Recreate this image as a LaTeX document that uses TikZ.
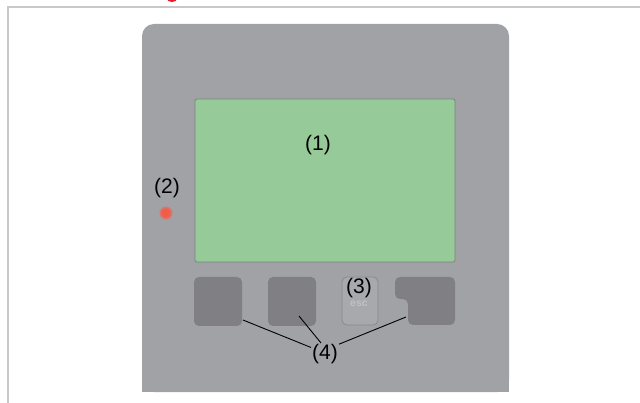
\documentclass[tikz,border=0pt]{standalone}
\usepackage{fontspec}
\setmainfont{Liberation Sans}
\usepackage{xcolor}
\usetikzlibrary{positioning, calc}
\definecolor{framegrey}{RGB}{200,200,200}
\definecolor{bodygrey}{RGB}{160,162,166}
\definecolor{keygrey}{RGB}{128,127,131}
\definecolor{lcdgreen}{RGB}{150,202,153}
\definecolor{lcdedge}{RGB}{120,132,122}
\definecolor{ledred}{RGB}{245,92,72}
\definecolor{headred}{RGB}{232,30,40}
\definecolor{escgrey}{RGB}{192,192,198}
\def\frameStroke{1.6pt}
\def\leadStroke{0.9pt}

\begin{document}
\begin{tikzpicture}[x=1pt, y=-1pt,
  every node/.style={font=\fontsize{21}{25}\selectfont, inner sep=1pt},
  key/.style={fill=keygrey, rounded corners=5pt, minimum width=48pt, minimum height=49pt, inner sep=0pt},
  esckey/.style={fill=bodygrey!92!white, draw=keygrey!70!bodygrey, line width=0.8pt,
    rounded corners=5pt, minimum width=36pt, minimum height=48pt, inner sep=0pt},
  lead/.style={black, line width=\leadStroke}]

% Canvas
\useasboundingbox (0,0) rectangle (640,403);

% Cut-off heading mark and page frame
\fill[headred] (172,-1) ellipse (5 and 3);
\draw[framegrey, line width=\frameStroke] (8,403) -- (8,7) -- (640,7);

% Device body
\fill[bodygrey, rounded corners=12pt] (142,24) rectangle (509,392);
\fill[bodygrey] (142,200) rectangle (509,392);

% Display
\node[fill=lcdgreen, draw=lcdedge, line width=0.8pt, minimum width=260pt, minimum height=163pt,
  rounded corners=2pt] (screen) at (325,180.5) {};
\node (lblOne) at (318,145) {(1)};

% LED
\fill[ledred!60!bodygrey] (166,213) circle (6.5);
\fill[ledred] (166,213) circle (4.8);
\node (lblTwo) at (167,188.5) {(2)};

% Keys
\node[key] (btnA) at (218,301.5) {};
\node[key] (btnB) at (292,301.5) {};
\node[esckey] (btnEsc) at (360,301) {};
\node[font=\fontsize{10.5}{11}\selectfont\bfseries, text=escgrey] (escText) at (359,304) {esc};
\fill[keygrey, rounded corners=5pt] (395,277) -- (455,277) -- (455,325) -- (408,325)
  -- (408,299) -- (395,299) -- cycle;
\coordinate (btnD) at (406,317);
\node (lblThree) at (359,288.5) {(3)};

% Leader lines to (4)
\node (lblFour) at (325,354) {(4)};
\coordinate (btnAend) at (243,320);
\coordinate (btnBend) at (299,316);
\draw[lead] (btnAend) -- (lblFour.155);
\draw[lead] (btnBend) -- (lblFour.110);
\draw[lead] (btnD) -- (lblFour.35);

\end{tikzpicture}
\end{document}
